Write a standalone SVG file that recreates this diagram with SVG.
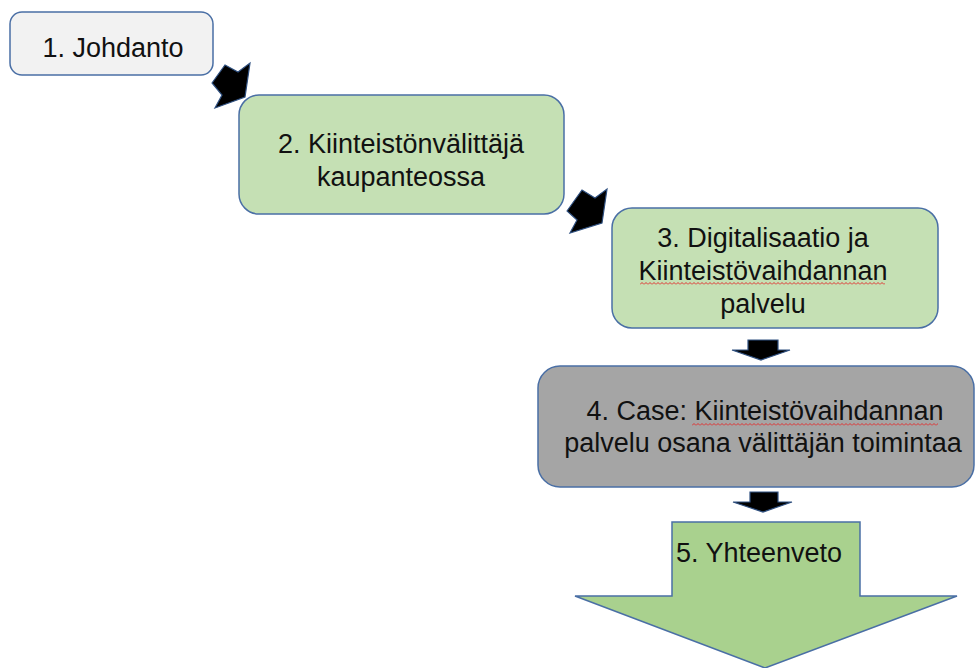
<svg xmlns="http://www.w3.org/2000/svg" width="976" height="668" viewBox="0 0 976 668">
  <style>
    .box { stroke: #4a6fa5; stroke-width: 1.5; }
    .lbl { font-family: "Liberation Sans", Arial, sans-serif; font-size: 27px; fill: #111111; text-anchor: middle; }
    .arr { fill: #000000; stroke: #2f5080; stroke-width: 1.2; stroke-linejoin: miter; }
  </style>
  <defs>
    <pattern id="wave" x="0" y="0" width="4" height="3" patternUnits="userSpaceOnUse">
      <path d="M0,2.5 L2,0.5 L4,2.5" fill="none" stroke="#e03030" stroke-width="1"/>
    </pattern>
  </defs>
  <rect width="976" height="668" fill="#ffffff"/>

  <g id="connectors">
    <polygon class="arr" points="212,83 225,65 238,72 250,63 245,97 215,108 222,95"/>
    <polygon class="arr" points="567,211 582,190 595,198 607,189 602,223 570,233 577,220"/>
    <polygon class="arr" points="748,340 778,340 778,350 790,350 761,360 732,350 748,350"/>
    <polygon class="arr" points="750,492 778,492 778,502 792,502 763,512 733,502 750,502"/>
  </g>

  <g id="node1">
    <rect class="box" x="10" y="12" width="203" height="63" rx="12" fill="#f2f2f2"/>
    <text class="lbl" x="113" y="57">1. Johdanto</text>
  </g>

  <g id="node2">
    <rect class="box" x="239" y="95" width="325" height="119" rx="20" fill="#c5e0b4"/>
    <text class="lbl" x="401" y="153">2. Kiinteistönvälittäjä</text>
    <text class="lbl" x="401" y="186">kaupanteossa</text>
  </g>

  <g id="node3">
    <rect class="box" x="612" y="208" width="326" height="120" rx="20" fill="#c5e0b4"/>
    <text class="lbl" x="763" y="247">3. Digitalisaatio ja</text>
    <text class="lbl" x="763" y="280">Kiinteistövaihdannan</text>
    <rect x="640" y="282" width="245" height="3" fill="url(#wave)"/>
    <text class="lbl" x="763" y="313">palvelu</text>
  </g>

  <g id="node4">
    <rect class="box" x="538" y="366" width="436" height="121" rx="22" fill="#a5a5a5"/>
    <text class="lbl" x="765" y="420">4. Case: Kiinteistövaihdannan</text>
    <rect x="692" y="423" width="246" height="3" fill="url(#wave)"/>
    <text class="lbl" x="763" y="452">palvelu osana välittäjän toimintaa</text>
  </g>

  <g id="node5">
    <polygon class="box" points="672,522 860,522 860,596 957,596 765,668 575,596 672,596" fill="#a9d18e"/>
    <text class="lbl" x="759" y="562">5. Yhteenveto</text>
  </g>
</svg>
